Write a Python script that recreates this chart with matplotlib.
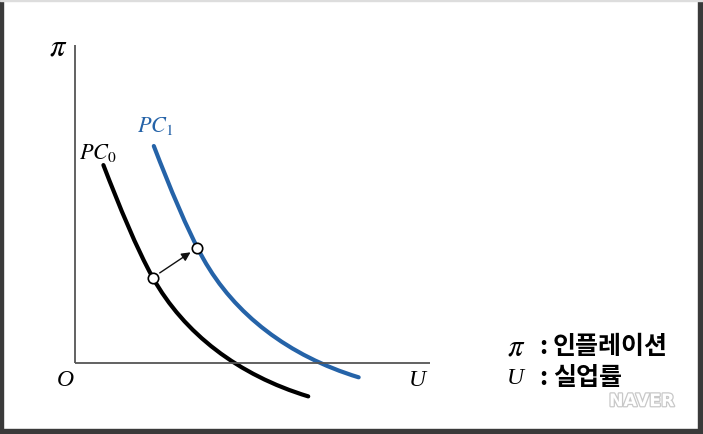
import numpy as np
import matplotlib
matplotlib.use("Agg")
import matplotlib.pyplot as plt
from matplotlib.patches import Rectangle, PathPatch
from matplotlib.path import Path
import matplotlib.patheffects as pe

plt.rcParams['mathtext.fontset'] = 'stix'

# Phillips curves read off the picture as two cubic pieces each
# (start, control, control, middle, control, control, end) in (u, pi) units
pc0_u = [0.80, 1.25, 1.74, 2.19, 3.07, 4.60, 6.57]
pc0_pi = [6.22, 4.915, 3.585, 2.68, 0.92, -0.39, -1.06]

pc1_u = [2.22, 2.67, 3.16, 3.61, 4.49, 6.02, 7.99]
pc1_pi = [6.82, 5.515, 4.185, 3.28, 1.52, 0.21, -0.46]

# the two marked points (arrow from PC0 to PC1)
pt_u = [2.19, 3.45]
pt_pi = [2.68, 3.62]

axis_max = 10
blue = '#2563a8'

fig = plt.figure(figsize=(7.03, 4.34), dpi=100)
ax = fig.add_axes([0, 0, 1, 1])
ax.set_xlim(-2.113, 17.69)
ax.set_ylim(-2.244, 11.416)
ax.axis('off')

# axes
ax.plot([0, 0], [0, axis_max], color='#555555', lw=1.3, solid_capstyle='butt')
ax.plot([0, axis_max], [0, 0], color='#555555', lw=1.3, solid_capstyle='butt')

codes = [Path.MOVETO] + [Path.CURVE4] * 6
for us, ps, col in [(pc0_u, pc0_pi, 'black'), (pc1_u, pc1_pi, blue)]:
    path = Path(np.column_stack([us, ps]), codes)
    ax.add_patch(PathPatch(path, fill=False, edgecolor=col, lw=3.0,
                           capstyle='round', joinstyle='round'))

ax.annotate('', xy=(pt_u[1], pt_pi[1]), xytext=(pt_u[0], pt_pi[0]),
            arrowprops=dict(arrowstyle='-|>', color='#111111', lw=1.0,
                            mutation_scale=13, shrinkA=6, shrinkB=6))
ax.plot(pt_u, pt_pi, 'o', ms=7.5, mfc='white', mec='black', mew=1.2, zorder=5)

serif = dict(family='Liberation Serif', style='italic')
ax.text(-0.48, 9.93, r'$\pi$', fontsize=22, ha='center', va='center')
ax.text(-0.28, -0.55, 'O', fontsize=17, ha='center', va='center', **serif)
ax.text(9.65, -0.55, 'U', fontsize=17, ha='center', va='center', **serif)
ax.text(0.65, 6.6, r'$PC_0$', fontsize=16, ha='center', va='center')
ax.text(2.25, 7.45, r'$PC_1$', fontsize=16, ha='center', va='center', color=blue)

# legend text
kr = dict(family=['Noto Sans CJK KR', 'DejaVu Sans'], weight='bold', fontsize=18)
ax.text(12.42, 0.50, r'$\pi$', fontsize=22, ha='center', va='center')
ax.text(13.18, 0.50, ':', ha='center', va='center', **kr)
ax.text(13.46, 0.50, '인플레이션', ha='left', va='center', **kr)
ax.text(12.40, -0.50, 'U', fontsize=17, ha='center', va='center', **serif)
ax.text(13.18, -0.48, ':', ha='center', va='center', **kr)
ax.text(13.46, -0.48, '실업률', ha='left', va='center', **kr)

ax.text(15.97, -1.21, 'NAVER', fontsize=12.5, weight='bold', color='white',
        ha='center', va='center', family='DejaVu Sans',
        path_effects=[pe.withStroke(linewidth=1.8, foreground='#c8c8c8')])

# frame of the screenshot
fig.patches.append(Rectangle((0, 0), 3 / 703, 1, transform=fig.transFigure, color='#3a3a3a'))
fig.patches.append(Rectangle((698 / 703, 0), 5 / 703, 1, transform=fig.transFigure, color='#3a3a3a'))
fig.patches.append(Rectangle((0, 0), 1, 5 / 434, transform=fig.transFigure, color='#3a3a3a'))
fig.patches.append(Rectangle((0, 433 / 434), 1, 1 / 434, transform=fig.transFigure, color='#dddddd'))

fig.savefig('out.png', dpi=100)
